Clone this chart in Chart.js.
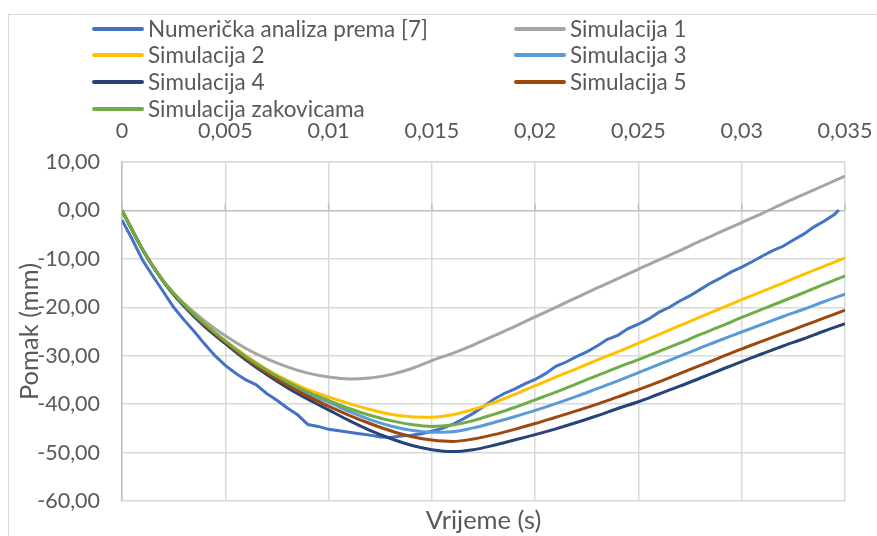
<!DOCTYPE html>
<html><head><meta charset="utf-8">
<script src="https://cdn.jsdelivr.net/npm/chart.js@4.4.1/dist/chart.umd.min.js"></script>
<style>
html,body{margin:0;padding:0;background:#fff;overflow:hidden;}
#wrap{position:relative;width:877px;height:536px;overflow:hidden;}
#frame{position:absolute;left:8px;top:14px;width:900px;height:600px;border:1px solid #d9d9d9;box-sizing:border-box;}
#c{position:absolute;left:0;top:0;}
#legend{position:absolute;left:0;top:0;font-family:Lato,'Open Sans',sans-serif;font-size:22.5px;color:#595959;}
.item{position:absolute;white-space:nowrap;height:26px;line-height:26px;}
.sw{position:absolute;left:0;top:11px;height:4px;width:52px;border-radius:2px;}
.lbl{position:absolute;left:56px;top:0;}
</style></head>
<body>
<div id="wrap">
<div id="frame"></div>
<canvas id="c" width="877" height="536"></canvas>
<div id="legend"></div>
</div>
<script>
// ---- data ----
const seriesNames = ['Numerička analiza prema [7]','Simulacija 1','Simulacija 2','Simulacija 3','Simulacija 4','Simulacija 5','Simulacija zakovicama'];
const seriesColors = ['#4472C4','#A5A5A5','#FFC000','#5B9BD5','#264478','#9E480E','#70AD47'];

const xTickValues = [0,0.005,0.01,0.015,0.02,0.025,0.03,0.035];
const xTickLabels = ['0','0,005','0,01','0,015','0,02','0,025','0,03','0,035'];
const yTickValues = [-60,-50,-40,-30,-20,-10,0,10];
const yTickLabels = ['-60,00','-50,00','-40,00','-30,00','-20,00','-10,00','0,00','10,00'];

// time (s) for the numerical analysis
const numTime = [0,0.0005,0.001,0.0015,0.002,0.0025,0.003,0.0035,0.004,0.0045,0.005,0.0055,0.006,0.0065,0.007,0.0075,0.008,0.0085,0.009,0.0095,
0.01,0.0105,0.011,0.0115,0.012,0.0125,0.013,0.0135,0.014,0.0145,0.015,0.0155,0.016,0.0165,0.017,0.0175,0.018,0.0185,0.019,0.0195,
0.02,0.0205,0.021,0.0215,0.022,0.0225,0.023,0.0235,0.024,0.0245,0.025,0.0255,0.026,0.0265,0.027,0.0275,0.028,0.0285,0.029,0.0295,
0.03,0.0305,0.031,0.0315,0.032,0.0325,0.033,0.0335,0.034,0.0345,0.0347];
const numValues = [-2.0,-6.0,-10.3,-13.6,-16.8,-20.0,-22.6,-25.0,-27.6,-30.0,-32.0,-33.6,-35.0,-36.0,-37.8,-39.2,-40.8,-42.2,-44.2,-44.6,
-45.2,-45.5,-45.8,-46.1,-46.4,-46.8,-46.9,-46.6,-46.4,-46.1,-45.6,-45.0,-44.2,-43.1,-41.9,-40.5,-39.0,-37.8,-36.9,-35.8,
-34.9,-33.7,-32.2,-31.3,-30.2,-29.2,-28.0,-26.6,-25.8,-24.4,-23.5,-22.4,-21.0,-20.0,-18.7,-17.6,-16.3,-15.0,-13.9,-12.7,
-11.7,-10.6,-9.4,-8.3,-7.4,-6.1,-4.9,-3.4,-2.2,-0.8,0.1];

// time (s) for the simulations
const simTime = [0,0.001,0.002,0.003,0.004,0.005,0.006,0.007,0.008,0.009,0.01,0.011,0.012,0.013,0.014,0.015,0.016,0.017,0.018,0.019,
0.02,0.021,0.022,0.023,0.024,0.025,0.026,0.027,0.028,0.029,0.03,0.031,0.032,0.033,0.034,0.035];
const sim1 = [0,-8.1,-14.6,-19.2,-22.8,-25.9,-28.5,-30.6,-32.3,-33.6,-34.4,-34.8,-34.6,-33.9,-32.7,-31.0,-29.5,-27.8,-25.9,-24.0,
-22.0,-20.0,-18.0,-16.0,-14.1,-12.1,-10.2,-8.3,-6.3,-4.4,-2.5,-0.6,1.4,3.3,5.2,7.1];
const sim2 = [0,-8.1,-14.6,-19.4,-23.4,-26.9,-30.0,-32.8,-35.1,-37.0,-38.5,-39.9,-41.1,-42.1,-42.6,-42.7,-42.2,-41.1,-39.7,-38.0,
-36.2,-34.4,-32.7,-30.9,-29.2,-27.4,-25.6,-23.8,-22.0,-20.2,-18.4,-16.7,-15.0,-13.2,-11.5,-9.8];
const sim3 = [0,-8.1,-14.6,-19.5,-23.6,-27.1,-30.4,-33.3,-35.8,-37.9,-39.6,-41.5,-43.2,-44.5,-45.4,-45.8,-45.7,-44.9,-43.8,-42.6,
-41.3,-39.9,-38.4,-36.8,-35.2,-33.5,-31.8,-30.1,-28.4,-26.7,-25.1,-23.5,-21.9,-20.4,-18.8,-17.3];
const sim4 = [0,-8.1,-14.7,-19.8,-24.0,-27.5,-30.9,-33.9,-36.6,-39.0,-41.2,-43.4,-45.4,-47.1,-48.5,-49.4,-49.8,-49.4,-48.5,-47.4,
-46.3,-45.1,-43.8,-42.4,-40.9,-39.5,-37.9,-36.3,-34.6,-32.9,-31.2,-29.6,-28.0,-26.5,-24.9,-23.4];
const sim5 = [0,-8.1,-14.6,-19.6,-23.7,-27.2,-30.6,-33.5,-36.1,-38.4,-40.4,-42.3,-44.0,-45.5,-46.7,-47.4,-47.7,-47.2,-46.3,-45.2,
-44.0,-42.7,-41.4,-40.0,-38.5,-37.0,-35.4,-33.7,-32.0,-30.3,-28.6,-27.0,-25.4,-23.8,-22.2,-20.6];
const simRivets = [0,-8.1,-14.6,-19.4,-23.4,-27.0,-30.2,-33.0,-35.4,-37.5,-39.2,-40.9,-42.3,-43.4,-44.2,-44.6,-44.3,-43.4,-42.1,-40.7,
-39.1,-37.5,-35.8,-34.1,-32.4,-30.8,-29.1,-27.4,-25.6,-23.9,-22.1,-20.4,-18.7,-17.0,-15.2,-13.5];

// ---- build ----
const toPts = (xs, ys) => ys.map((v,i)=>({x:xs[i], y:v}));
const seriesData = [toPts(numTime,numValues), toPts(simTime,sim1), toPts(simTime,sim2), toPts(simTime,sim3), toPts(simTime,sim4), toPts(simTime,sim5), toPts(simTime,simRivets)];

const datasets = seriesData.map((d,i)=>({
  label: seriesNames[i],
  data: d,
  borderColor: seriesColors[i],
  backgroundColor: seriesColors[i],
  borderWidth: 3,
  pointRadius: 0,
  fill: false,
  tension: i===0 ? 0 : 0.4,
  cubicInterpolationMode: i===0 ? 'default' : 'monotone',
  order: seriesNames.length - 1 - i
}));

// HTML legend
const legendEl = document.getElementById('legend');
const colX = [92, 514], rowY = [29, 55, 82, 109];
seriesNames.forEach((n,i)=>{
  const it = document.createElement('div');
  it.className='item';
  it.style.left = colX[i%2]+'px';
  it.style.top = (rowY[Math.floor(i/2)]-13)+'px';
  it.innerHTML = '<span class="sw" style="background:'+seriesColors[i]+'"></span><span class="lbl"></span>';
  it.querySelector('.lbl').textContent = n;
  legendEl.appendChild(it);
});

const FONT = 'Lato';
const TXT = '#595959';

const zeroTicks = {
  id:'zeroTicks',
  beforeDatasetsDraw(chart){
    const {ctx, scales:{x,y}} = chart;
    const y0 = y.getPixelForValue(0);
    ctx.save();
    ctx.strokeStyle='#bfbfbf'; ctx.lineWidth=1.5;
    x.ticks.forEach(t=>{
      const px = x.getPixelForValue(t.value);
      ctx.beginPath(); ctx.moveTo(px,y0-7); ctx.lineTo(px,y0); ctx.stroke();
    });
    ctx.restore();
  }
};

new Chart(document.getElementById('c'), {
  type:'line',
  data:{datasets},
  plugins:[zeroTicks],
  options:{
    responsive:false,
    animation:false,
    layout:{padding:{left:0,right:32,top:0,bottom:0}},
    plugins:{legend:{display:false}, tooltip:{enabled:false}},
    scales:{
      x:{
        type:'linear', position:'top', min:0, max:0.035,
        afterBuildTicks: s => { s.ticks = xTickValues.map(v=>({value:v})); },
        afterFit: s => { s.height = 162; s.paddingLeft = 0; s.paddingRight = 0; },
        ticks:{ color:TXT, font:{family:FONT,size:21.5}, padding:18, maxRotation:0, autoSkip:false,
          callback: v => xTickLabels[xTickValues.indexOf(v)] },
        grid:{ color:'#d9d9d9', lineWidth:1.5, drawTicks:false },
        border:{ color:'#d9d9d9', width:1.5 }
      },
      x2:{
        type:'linear', position:'bottom', display:true,
        afterFit: s => { s.height = 35; s.paddingLeft = 0; s.paddingRight = 0; },
        grid:{display:false, drawTicks:false},
        ticks:{display:false},
        border:{display:false},
        title:{display:true, text:'Vrijeme (s)', color:TXT, font:{family:FONT,size:25.5}, padding:{top:0,bottom:0}}
      },
      y:{
        type:'linear', position:'left', min:-60, max:10,
        afterBuildTicks: s => { s.ticks = yTickValues.map(v=>({value:v})); },
        afterFit: s => { s.width = 122; s.paddingTop = 0; s.paddingBottom = 0; },
        ticks:{ color:TXT, font:{family:FONT,size:21.5}, padding:22,
          callback: v => yTickLabels[yTickValues.indexOf(v)] },
        grid:{ color: c => (c.tick && c.tick.value===0) ? '#bfbfbf' : '#d9d9d9', lineWidth:1.5, drawTicks:false },
        border:{ color:'#bfbfbf', width:1.5 },
        title:{display:true, text:'Pomak (mm)', color:TXT, font:{family:FONT,size:25.5}, padding:{top:14,bottom:0}}
      }
    }
  }
});
</script>
</body></html>
